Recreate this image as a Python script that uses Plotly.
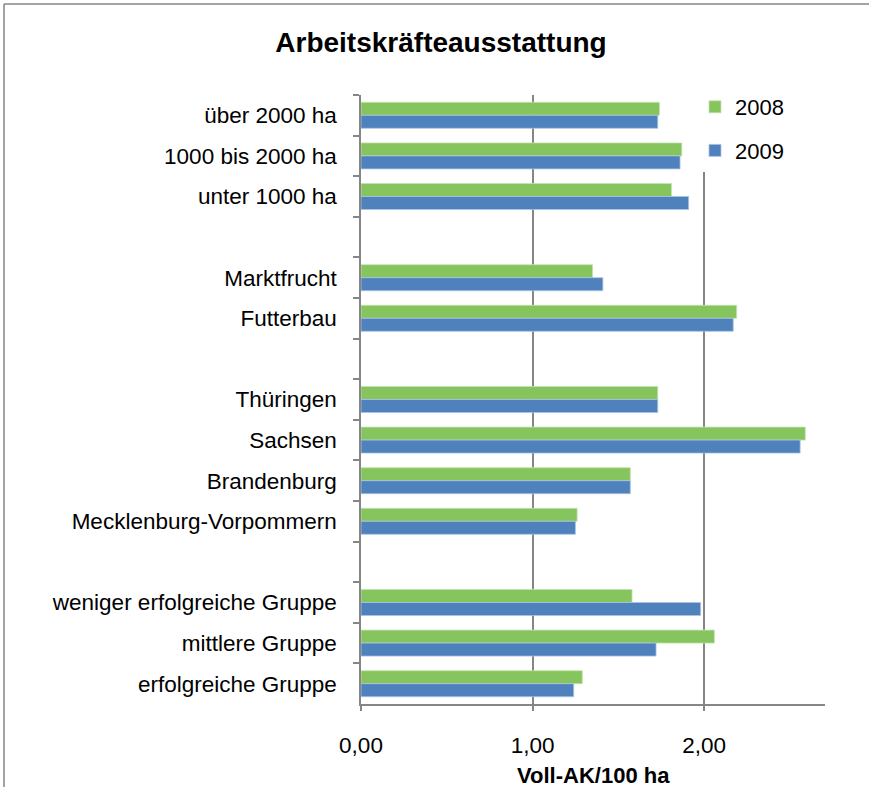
import plotly.graph_objects as go

# categories top to bottom, blanks separate the groups
categories = ["über 2000 ha", "1000 bis 2000 ha", "unter 1000 ha", " ",
              "Marktfrucht", "Futterbau", "  ",
              "Thüringen", "Sachsen", "Brandenburg", "Mecklenburg-Vorpommern", "   ",
              "weniger erfolgreiche Gruppe", "mittlere Gruppe", "erfolgreiche Gruppe"]

values_2008 = [1.74, 1.87, 1.81, None, 1.35, 2.19, None,
               1.73, 2.59, 1.57, 1.26, None, 1.58, 2.06, 1.29]
values_2009 = [1.73, 1.86, 1.91, None, 1.41, 2.17, None,
               1.73, 2.56, 1.57, 1.25, None, 1.98, 1.72, 1.24]

x_ticks = [0, 1, 2]

GREEN = "#86C55E"
BLUE = "#4F81BD"
GRAY = "#868686"
FONT = "Liberation Sans, Arial, sans-serif"

# plot area in pixels
L, R, T, B = 361, 825, 95, 704
PW, PH = R - L, B - T

fig = go.Figure()
fig.add_trace(go.Bar(y=categories, x=values_2008, orientation="h", name="2008",
                     legendgroup="a",
                     marker=dict(color=GREEN, line=dict(color="#C4E2B0", width=0.8))))
fig.add_trace(go.Bar(y=categories, x=values_2009, orientation="h", name="2009",
                     legendgroup="b",
                     marker=dict(color=BLUE, line=dict(color="#A9C3E3", width=0.8))))

fig.update_layout(
    width=869, height=787,
    margin=dict(l=L, r=869 - R, t=T, b=787 - B),
    paper_bgcolor="white", plot_bgcolor="white",
    font=dict(family=FONT, size=22.5, color="black"),
    barmode="group", bargap=0.36, bargroupgap=0,
    title=dict(text="<b>Arbeitskräfteausstattung</b>", x=441 / 869, xanchor="center",
               y=1 - 42 / 787, yanchor="middle", yref="container",
               font=dict(size=28, family=FONT)),
    legend=dict(x=(695 - L) / PW, xanchor="left", y=(B - 86) / PH, yanchor="top",
                bgcolor="white", font=dict(size=22), traceorder="grouped",
                tracegroupgap=12, itemwidth=30),
    xaxis=dict(range=[0, 2.705], tickvals=x_ticks, tickformat=".2f",
               showgrid=True, gridcolor=GRAY, gridwidth=1.5, zeroline=False,
               showline=True, linecolor=GRAY, linewidth=1.5,
               ticks="outside", ticklen=5, tickcolor=GRAY, tickwidth=1.5,
               ticklabelstandoff=15, automargin=False),
    yaxis=dict(autorange="reversed", type="category", showgrid=False,
               showline=True, linecolor=GRAY, linewidth=1.5,
               ticks="outside", tickson="boundaries", ticklen=6,
               tickcolor=GRAY, tickwidth=1.5, ticklabelstandoff=18,
               automargin=False),
    separators=",.",
    annotations=[dict(text="<b>Voll-AK/100 ha</b>", xref="paper", yref="paper",
                      x=(593 - L) / PW, y=(B - 775) / PH, xanchor="center",
                      yanchor="middle", showarrow=False, font=dict(size=22))],
    shapes=[
        # outer chart frame (left and top edges visible)
        dict(type="line", xref="paper", yref="paper",
             x0=(4 - L) / PW, x1=(4 - L) / PW, y0=(B - 800) / PH, y1=(B - 4) / PH,
             line=dict(color=GRAY, width=1.5)),
        dict(type="line", xref="paper", yref="paper",
             x0=(4 - L) / PW, x1=(880 - L) / PW, y0=(B - 4) / PH, y1=(B - 4) / PH,
             line=dict(color=GRAY, width=1.5)),
    ],
)

fig.write_html("out.html", config={"displayModeBar": False},
               post_script="document.body.style.margin='0';")
